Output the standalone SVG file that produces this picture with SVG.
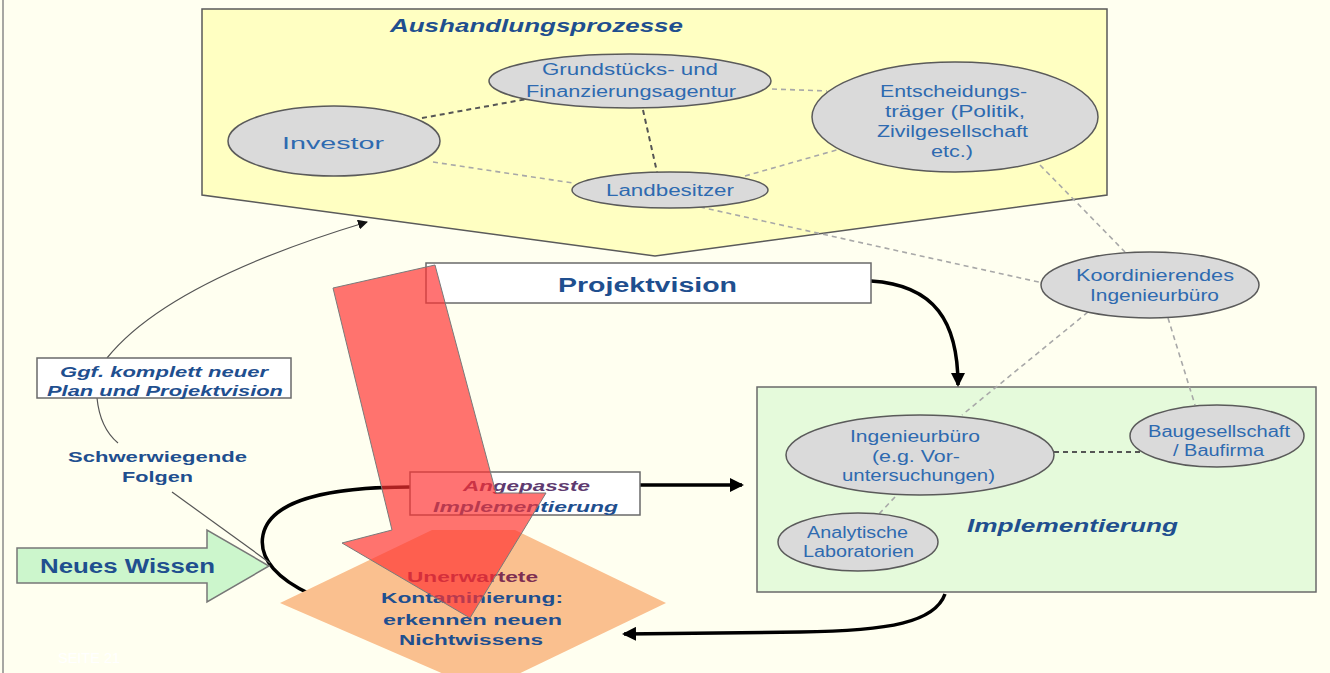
<svg xmlns="http://www.w3.org/2000/svg" width="1330" height="673" viewBox="0 0 1330 673">
<defs>
<style>
.t{font-family:"Liberation Sans",Arial,sans-serif;fill:#2E6AB0;font-size:16px}
.b{font-family:"Liberation Sans",Arial,sans-serif;fill:#1F4F8F;font-weight:bold}
.bi{font-family:"Liberation Sans",Arial,sans-serif;fill:#1F4F8F;font-weight:bold;font-style:italic}
.ell{fill:#DADADA;stroke:#5A5A5A;stroke-width:1.5}
.dl{fill:none;stroke:#A8A8A8;stroke-width:1.6;stroke-dasharray:5 4}
.dd{fill:none;stroke:#555555;stroke-width:2;stroke-dasharray:5 4}
.box{fill:#FFFFFF;stroke:#6A6A6A;stroke-width:1.5}
.thick{fill:none;stroke:#000;stroke-width:3.5}
.thin{fill:none;stroke:#555;stroke-width:1.2}
</style>
<marker id="ah" markerUnits="userSpaceOnUse" markerWidth="14" markerHeight="14" refX="12" refY="7" orient="auto">
<path d="M0,0 L14,7 L0,14 z" fill="#000"/>
</marker>
<marker id="ahs" markerUnits="userSpaceOnUse" markerWidth="10" markerHeight="10" refX="9" refY="5" orient="auto">
<path d="M0,0 L10,5 L0,10 z" fill="#111"/>
</marker>
</defs>
<rect x="0" y="0" width="1330" height="673" fill="#FFFFF0"/>
<line x1="3" y1="0" x2="3" y2="673" stroke="#8A8A8A" stroke-width="1.5"/>

<g id="aushandlungsprozesse">
<polygon points="202,9 1107,9 1107,195 655,256 202,195" fill="#FFFFC2" stroke="#5A5A5A" stroke-width="1.5"/>
<text class="bi" x="390" y="32" font-size="19" textLength="293" lengthAdjust="spacingAndGlyphs">Aushandlungsprozesse</text>
</g>

<g id="implementierung">
<rect x="757" y="387" width="559" height="205" fill="#E5FADB" stroke="#6A6A6A" stroke-width="1.5"/>
<text class="bi" x="967" y="532" font-size="18" textLength="211" lengthAdjust="spacingAndGlyphs">Implementierung</text>
</g>

<g id="connectors">
<line class="dd" x1="422" y1="118" x2="527" y2="99"/>
<line class="dd" x1="643" y1="110" x2="657" y2="172"/>
<line class="dl" x1="772" y1="89" x2="827" y2="91"/>
<line class="dl" x1="433" y1="162" x2="573" y2="183"/>
<line class="dl" x1="745" y1="176" x2="840" y2="149"/>
<line class="dl" x1="700" y1="207" x2="1043" y2="283"/>
<line class="dl" x1="1040" y1="165" x2="1125" y2="252"/>
<line class="dl" x1="1088" y1="312" x2="962" y2="415"/>
<line class="dl" x1="1168" y1="318" x2="1195" y2="405"/>
<line class="dd" x1="1054" y1="452" x2="1142" y2="452"/>
<line class="dl" x1="895" y1="497" x2="878" y2="515"/>
<path class="thick" d="M871,281 C935,285 958,322 958,385" marker-end="url(#ah)"/>
<line class="thick" x1="640" y1="485" x2="742" y2="485" stroke-width="3" marker-end="url(#ah)"/>
<path class="thick" d="M945,594 C935,622 890,631 800,632 L624,634" marker-end="url(#ah)"/>
<path class="thick" d="M410,487 C330,487 270,500 263,535 C258,560 280,580 310,594"/>
<path class="thin" d="M107,358 Q168,282 367,222" marker-end="url(#ahs)"/>
<path class="thin" d="M97,398 Q100,428 118,443"/>
<line class="thin" x1="172" y1="492" x2="270" y2="563"/>
</g>

<g id="investor">
<ellipse class="ell" cx="334" cy="141" rx="106" ry="35"/>
<text class="t" x="282" y="149" font-size="22" textLength="102" lengthAdjust="spacingAndGlyphs">Investor</text>
</g>
<g id="grundstuecksagentur">
<ellipse class="ell" cx="630" cy="81" rx="141" ry="27"/>
<text class="t" x="542" y="75" textLength="176" lengthAdjust="spacingAndGlyphs">Grundstücks- und</text>
<text class="t" x="526" y="97" textLength="210" lengthAdjust="spacingAndGlyphs">Finanzierungsagentur</text>
</g>
<g id="landbesitzer">
<ellipse class="ell" cx="670" cy="190" rx="98" ry="18"/>
<text class="t" x="606" y="196" textLength="128" lengthAdjust="spacingAndGlyphs">Landbesitzer</text>
</g>
<g id="entscheidungstraeger">
<ellipse class="ell" cx="955" cy="117" rx="143" ry="55"/>
<text class="t" x="880" y="97" textLength="147" lengthAdjust="spacingAndGlyphs">Entscheidungs-</text>
<text class="t" x="885" y="117" textLength="140" lengthAdjust="spacingAndGlyphs">träger (Politik,</text>
<text class="t" x="877" y="137" textLength="151" lengthAdjust="spacingAndGlyphs">Zivilgesellschaft</text>
<text class="t" x="931" y="157" textLength="42" lengthAdjust="spacingAndGlyphs">etc.)</text>
</g>
<g id="koordinierendes-ingenieurbuero">
<ellipse class="ell" cx="1150" cy="285" rx="109" ry="33"/>
<text class="t" x="1076" y="281" textLength="158" lengthAdjust="spacingAndGlyphs">Koordinierendes</text>
<text class="t" x="1090" y="301" textLength="129" lengthAdjust="spacingAndGlyphs">Ingenieurbüro</text>
</g>
<g id="ingenieurbuero">
<ellipse class="ell" cx="920" cy="455" rx="134" ry="40"/>
<text class="t" x="850" y="442" textLength="130" lengthAdjust="spacingAndGlyphs">Ingenieurbüro</text>
<text class="t" x="872" y="462" textLength="88" lengthAdjust="spacingAndGlyphs">(e.g. Vor-</text>
<text class="t" x="842" y="481" textLength="153" lengthAdjust="spacingAndGlyphs">untersuchungen)</text>
</g>
<g id="baugesellschaft">
<ellipse class="ell" cx="1217" cy="436" rx="87" ry="31"/>
<text class="t" x="1148" y="437" textLength="142" lengthAdjust="spacingAndGlyphs">Baugesellschaft</text>
<text class="t" x="1173" y="456" textLength="91" lengthAdjust="spacingAndGlyphs">/ Baufirma</text>
</g>
<g id="analytische-laboratorien">
<ellipse class="ell" cx="858" cy="542" rx="80" ry="29"/>
<text class="t" x="807" y="538" textLength="101" lengthAdjust="spacingAndGlyphs">Analytische</text>
<text class="t" x="803" y="557" textLength="111" lengthAdjust="spacingAndGlyphs">Laboratorien</text>
</g>

<g id="projektvision">
<rect class="box" x="426" y="263" width="445" height="40"/>
<text class="b" x="558" y="292" font-size="20" textLength="179" lengthAdjust="spacingAndGlyphs">Projektvision</text>
</g>
<g id="neuer-plan">
<rect class="box" x="37" y="358" width="254" height="40"/>
<text class="bi" x="60" y="377" font-size="15" textLength="208" lengthAdjust="spacingAndGlyphs">Ggf. komplett neuer</text>
<text class="bi" x="47" y="396" font-size="15" textLength="236" lengthAdjust="spacingAndGlyphs">Plan und Projektvision</text>
</g>
<g id="schwerwiegende-folgen">
<text class="b" x="68" y="462" font-size="15" textLength="179" lengthAdjust="spacingAndGlyphs">Schwerwiegende</text>
<text class="b" x="122" y="482" font-size="15" textLength="71" lengthAdjust="spacingAndGlyphs">Folgen</text>
</g>
<g id="neues-wissen">
<polygon points="17,548 207,548 207,530 269,566 207,602 207,583 17,583" fill="#CCF6CC" stroke="#777" stroke-width="1.5"/>
<text class="b" x="40" y="573" font-size="20" textLength="175" lengthAdjust="spacingAndGlyphs">Neues Wissen</text>
</g>
<g id="angepasste-implementierung">
<rect class="box" x="410" y="472" width="230" height="43"/>
<text class="bi" x="463" y="491" font-size="15" style="fill:#5E3A70" textLength="127" lengthAdjust="spacingAndGlyphs">Angepasste</text>
<text class="bi" x="433" y="512" font-size="15" textLength="185" lengthAdjust="spacingAndGlyphs">Implementierung</text>
</g>
<g id="unerwartete-kontaminierung">
<polygon points="280,603 432,530 515,530 666,603 483,691" fill="#FAC08F"/>
<text class="b" x="407" y="582" font-size="15" style="fill:#7E2E52" textLength="131" lengthAdjust="spacingAndGlyphs">Unerwartete</text>
<text class="b" x="381" y="603" font-size="15" textLength="182" lengthAdjust="spacingAndGlyphs">Kontaminierung:</text>
<text class="b" x="383" y="625" font-size="15" textLength="179" lengthAdjust="spacingAndGlyphs">erkennen neuen</text>
<text class="b" x="399" y="645" font-size="15" textLength="144" lengthAdjust="spacingAndGlyphs">Nichtwissens</text>
</g>

<g id="red-arrow">
<polygon points="333,288 435,265 496,493 546,493 470,618 342,543 392,530" fill="#FF3030" fill-opacity="0.68" stroke="#7A7A7A" stroke-width="1"/>
</g>

<text x="58" y="663" font-family="Liberation Sans, Arial, sans-serif" font-size="14" fill="#FFFFFF" textLength="62" lengthAdjust="spacingAndGlyphs">SEITE 21</text>
</svg>
